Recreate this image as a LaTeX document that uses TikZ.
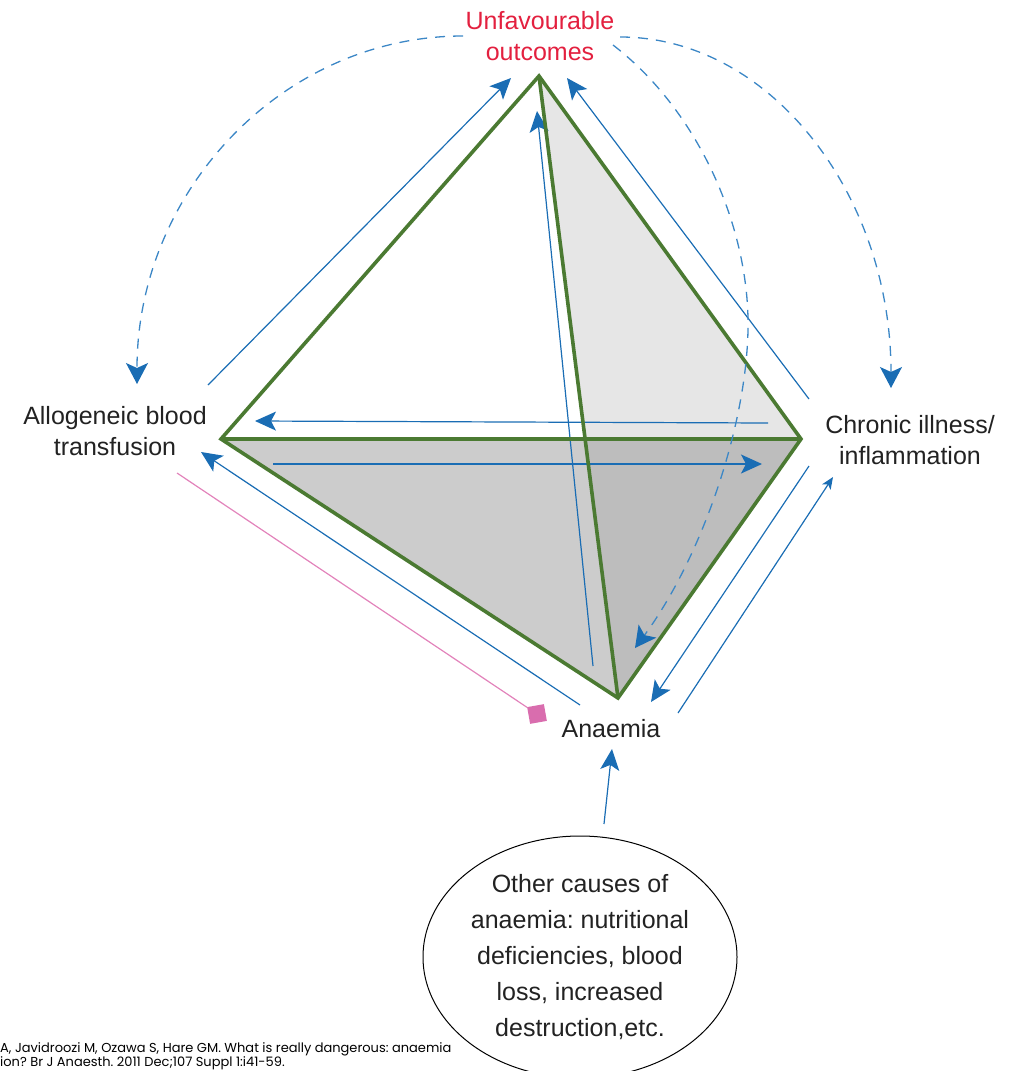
\documentclass[tikz,border=0pt]{standalone}
\usepackage{fontspec}
\setmainfont{Liberation Sans}
\newfontfamily\citefont{Poppins}
\usetikzlibrary{arrows.meta,shapes.geometric}
\definecolor{edgegreen}{HTML}{4B7A32}
\definecolor{arrblue}{HTML}{1A6DB4}
\definecolor{dashblue}{HTML}{3C87C6}
\definecolor{outred}{HTML}{E3203F}
\definecolor{pinkline}{HTML}{E283BB}
\definecolor{pinkbox}{HTML}{D96DAE}
\definecolor{lightface}{HTML}{E6E6E6}
\definecolor{midface}{HTML}{CCCCCC}
\definecolor{darkface}{HTML}{BDBDBD}
\definecolor{textgrey}{HTML}{222222}
\begin{document}
\frenchspacing
\begin{tikzpicture}[x=1pt,y=-1pt,
  lab/.style={font=\fontsize{25}{31}\selectfont, text=textgrey, align=center, inner sep=0pt},
  edgethree/.style={draw=edgegreen, line width=3.6pt},
  link/.style={draw=arrblue, line width=1.2pt, -{Stealth[length=21pt,width=19pt,inset=5pt]}},
  smalllink/.style={draw=arrblue, line width=1.2pt, -{Stealth[length=12pt,width=10pt,inset=3pt]}},
  dasharc/.style={draw=dashblue, line width=1.3pt, dash pattern=on 10pt off 8pt, -{Stealth[length=21pt,width=22pt,inset=5pt,color=arrblue]}},
]
\useasboundingbox (0,0) rectangle (1014,1071);

% vertices
\coordinate (T) at (539,76);
\coordinate (L) at (221,439);
\coordinate (R) at (801,439);
\coordinate (B) at (618,698);
\coordinate (X) at (585,439);

% faces
\fill[lightface] (T) -- (R) -- (X) -- cycle;
\fill[midface] (L) -- (X) -- (B) -- cycle;
\fill[darkface] (X) -- (R) -- (B) -- cycle;

% labels
\node[lab, text=outred] (unf) at (540,36) {Unfavourable\\outcomes};
\node[lab] (allo) at (115,431) {Allogeneic blood\\transfusion};
\node[lab] (chron) at (910,440) {Chronic illness/\\inflammation};
\node[lab] (anaemia) at (611,729) {Anaemia};
\node[ellipse, draw=black, line width=1pt, minimum width=314pt, minimum height=242pt,
      inner sep=0pt, font=\fontsize{25}{36}\selectfont, text=textgrey, align=center]
      (other) at (580,957) {Other causes of\\anaemia: nutritional\\deficiencies, blood\\loss, increased\\destruction,etc.};
\node[anchor=south west, inner sep=0pt, align=left, font=\citefont\fontsize{13}{12.5}\selectfont, text=black]
      (cite) at (0,1070) {A, Javidroozi M, Ozawa S, Hare GM. What is really dangerous: anaemia\\ion? Br J Anaesth. 2011 Dec;107 Suppl 1:i41-59.};

% arrow end points
\coordinate (a1s) at (208,385); \coordinate (a1e) at (511,78);
\coordinate (a2s) at (809,399); \coordinate (a2e) at (567,78);
\coordinate (a3s) at (593,666); \coordinate (a3e) at (537,111);
\coordinate (a4s) at (768,423); \coordinate (a4e) at (255,421);
\coordinate (a5s) at (273,464); \coordinate (a5e) at (762,464);
\coordinate (a6s) at (580,705); \coordinate (a6e) at (201,452);
\coordinate (a7s) at (809,466); \coordinate (a7e) at (651,702);
\coordinate (a8s) at (678,713); \coordinate (a8e) at (833,477);
\coordinate (a9s) at (604,824); \coordinate (a9e) at (612,749);

% blue solid connectors
\draw[link] (a1s) -- (a1e);
\draw[link] (a2s) -- (a2e);
\draw[link] (a3s) -- (a3e);
\draw[link] (a4s) -- (a4e);
\draw[link] (a5s) -- (a5e);
\draw[link] (a6s) -- (a6e);
\draw[link] (a7s) -- (a7e);
\draw[smalllink] (a8s) -- (a8e);
\draw[link] (a9s) -- (a9e);

% green edges
\draw[edgethree] (T) -- (L) -- (B) -- (R) -- cycle;
\draw[edgethree] (L) -- (R);
\draw[edgethree] (T) -- (B);

% pink inhibitor
\coordinate (pks) at (177,473);
\node[rectangle, fill=pinkbox, minimum size=17pt, inner sep=0pt, rotate=10] (pbox) at (537,714) {};
\draw[pinkline, line width=1.2pt] (pks) -- (pbox);

% dashed arcs
\coordinate (dAs) at (463,36); \coordinate (dAe) at (137,384);
\coordinate (dBs) at (620,37); \coordinate (dBe) at (891,388);
\coordinate (dCs) at (613,45); \coordinate (dCm) at (748,330); \coordinate (dCe) at (635,648);
\draw[dasharc] (dAs) .. controls (283,36) and (137,191) .. (dAe);
\draw[dasharc] (dBs) .. controls (770,37) and (891,194) .. (dBe);
\draw[dasharc] (dCs) .. controls (700,112) and (750,230) .. (dCm) .. controls (746,430) and (700,560) .. (dCe);
\end{tikzpicture}
\end{document}
